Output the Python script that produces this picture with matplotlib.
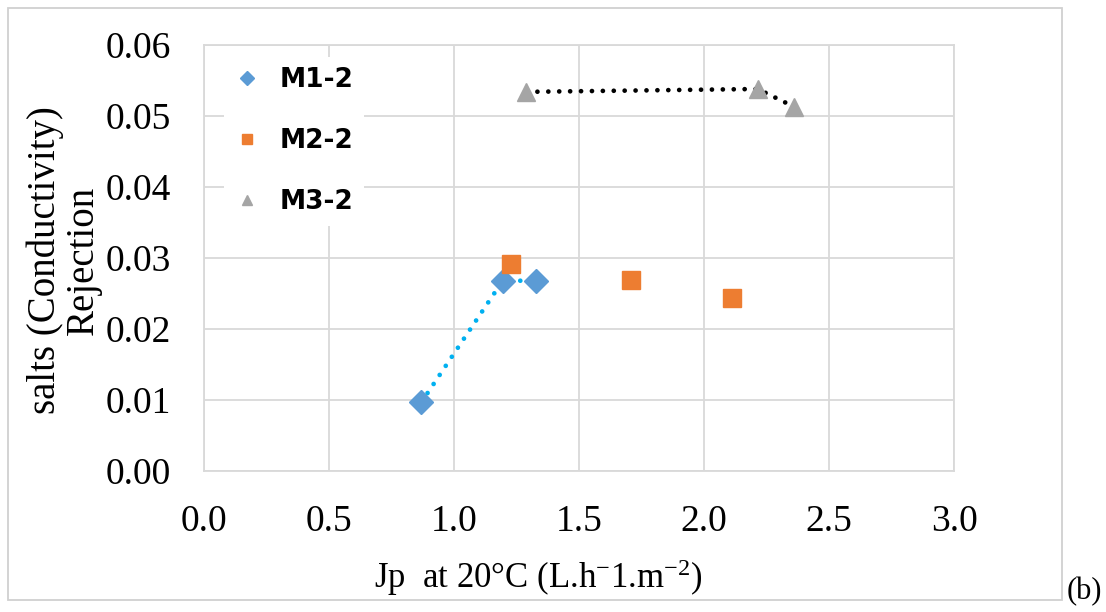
import matplotlib
matplotlib.use("Agg")
import matplotlib.pyplot as plt
from matplotlib.patches import Rectangle

plt.rcParams['font.family'] = ['Liberation Serif', 'DejaVu Serif']
plt.rcParams['mathtext.fontset'] = 'custom'
plt.rcParams['mathtext.rm'] = 'Liberation Serif'
plt.rcParams['mathtext.it'] = 'Liberation Serif:italic'

# data
m1_x = [0.87, 1.195, 1.33]
m1_y = [0.0097, 0.0268, 0.0268]
m2_x = [1.23, 1.71, 2.11]
m2_y = [0.0292, 0.0269, 0.0243]
m3_x = [1.29, 2.215, 2.36]
m3_y = [0.0534, 0.0538, 0.0513]
labels = ["M1-2", "M2-2", "M3-2"]

fig = plt.figure(figsize=(11.06, 6.12), dpi=100)
ax = fig.add_axes([0.1844, 0.2304, 0.6782, 0.6961])

grid_col = "#D9D9D9"
dots = (0, (0.01, 2.3))

# trend lines (dotted, no legend)
ax.plot(m1_x, m1_y, color="#00B0F0", lw=3.4, ls=dots, dash_capstyle="round", zorder=3)
ax.plot(m3_x, m3_y, color="black", lw=3.4, ls=dots, dash_capstyle="round", zorder=3)

h1, = ax.plot(m1_x, m1_y, ls="none", marker="D", ms=12.5, color="#5B9BD5",
              mec="#5B9BD5", label=labels[0], zorder=4)
h2, = ax.plot(m2_x, m2_y, ls="none", marker="s", ms=13.5, color="#ED7D31",
              mec="#ED7D31", label=labels[1], zorder=4)
h3, = ax.plot(m3_x, m3_y, ls="none", marker="^", ms=13, color="#A5A5A5",
              mec="#A5A5A5", label=labels[2], zorder=4)

ax.set_xlim(0, 3.0)
ax.set_ylim(0, 0.06)
ax.set_xticks([0, 0.5, 1.0, 1.5, 2.0, 2.5, 3.0])
ax.set_yticks([0, 0.01, 0.02, 0.03, 0.04, 0.05, 0.06])
ax.set_xticklabels([f"{v:.1f}" for v in ax.get_xticks()])
ax.set_yticklabels([f"{v:.2f}" for v in ax.get_yticks()])
ax.tick_params(length=0, labelsize=27)
ax.tick_params(axis="x", pad=24)
ax.tick_params(axis="y", pad=24)
ax.grid(True, color=grid_col, lw=1.3)
ax.set_axisbelow(True)
for sp in ax.spines.values():
    sp.set_color(grid_col)
    sp.set_linewidth(1.3)

leg = ax.legend(handles=[h1, h2, h3], loc="upper left",
                bbox_to_anchor=(0.027, 0.972), frameon=True, fancybox=False,
                markerscale=0.55, handlelength=0.9, handletextpad=0.8,
                labelspacing=1.32, borderpad=0.4, borderaxespad=0,
                prop={"family": "DejaVu Sans", "weight": "bold", "size": 19})
leg.get_frame().set_facecolor("white")
leg.get_frame().set_edgecolor("none")
leg.get_frame().set_alpha(1)

fig.text(64 / 1106, 1 - 260 / 612, "salts (Conductivity)\nRejection",
         rotation=90, ha="center", va="center", multialignment="center",
         fontsize=28, linespacing=1.05)
fig.text(538 / 1106, 1 - 578 / 612,
         r"Jp  at 20°C (L.h$^{-}$1.m$^{-2}$)",
         ha="center", va="center", fontsize=25)
fig.text(1084 / 1106, 1 - 592 / 612, "(b)", ha="center", va="center", fontsize=22)

fig.patches.append(Rectangle((8 / 1106, 12 / 612), 1054 / 1106, 592 / 612,
                             transform=fig.transFigure, fill=False,
                             edgecolor="#D0D0D0", lw=1.3))

fig.savefig("out.png", dpi=100)
